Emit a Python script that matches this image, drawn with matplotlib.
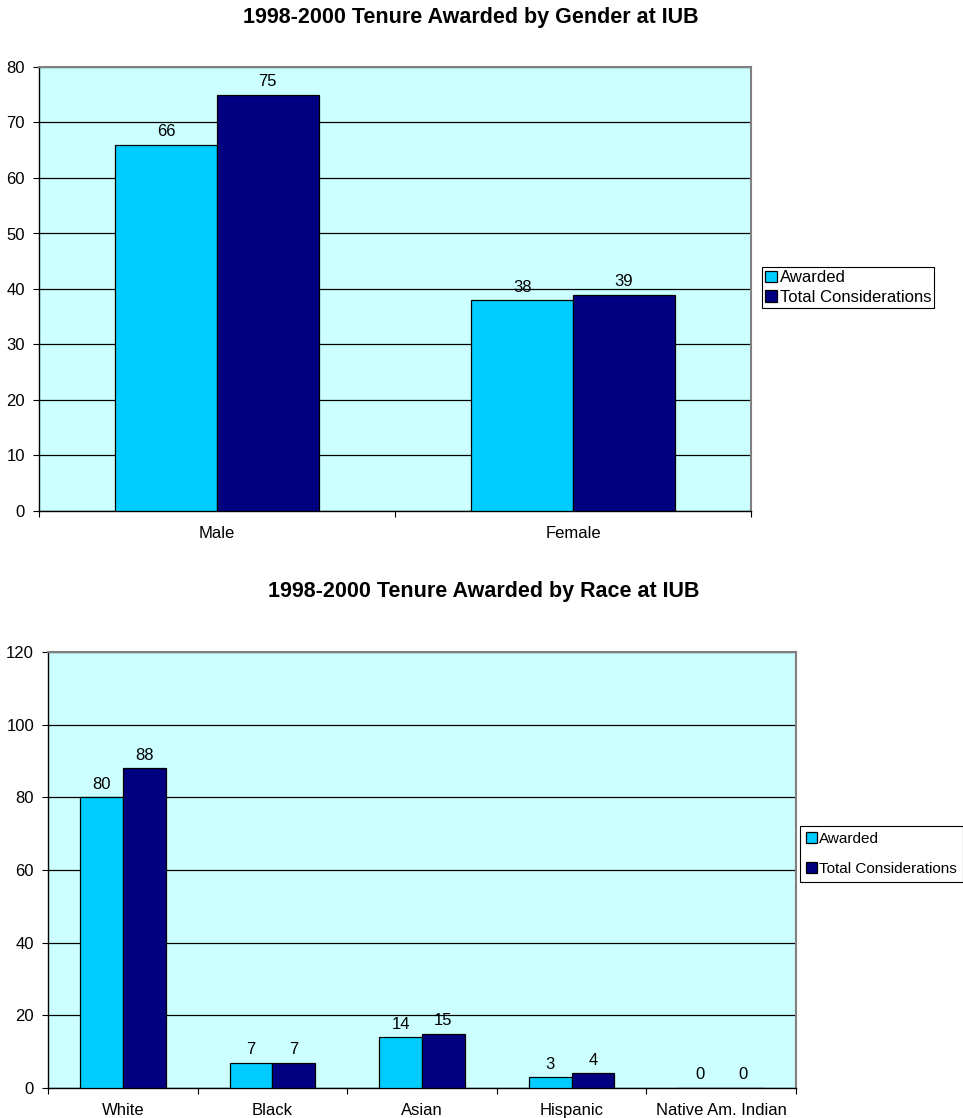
import numpy as np
import matplotlib.pyplot as plt
from matplotlib.ticker import FixedLocator, NullFormatter

plt.rcParams['font.family'] = ['Liberation Sans', 'DejaVu Sans']

# data
gender_cats = ['Male', 'Female']
gender_awarded = [66, 38]
gender_total = [75, 39]

race_cats = ['White', 'Black', 'Asian', 'Hispanic', 'Native Am. Indian']
race_awarded = [80, 7, 14, 3, 0]
race_total = [88, 7, 15, 4, 0]

series_names = ['Awarded', 'Total Considerations']
c_awarded = '#00CCFF'
c_total = '#000080'
c_bg = '#CCFFFF'
W, H = 963, 1118
FS = 12


def draw(ax, cats, awarded, total, ymax, ystep):
    n = len(cats)
    x = np.arange(n)
    bw = 1 / 3.5
    b1 = ax.bar(x - bw / 2, awarded, bw, color=c_awarded, edgecolor='black',
                linewidth=0.9, label=series_names[0], zorder=3)
    b2 = ax.bar(x + bw / 2, total, bw, color=c_total, edgecolor='black',
                linewidth=0.9, label=series_names[1], zorder=3)
    for bars in (b1, b2):
        ax.bar_label(bars, padding=4, fontsize=FS)
    ax.set_facecolor(c_bg)
    ax.set_xlim(-0.5, n - 0.5)
    ax.set_ylim(0, ymax)
    ax.set_yticks(np.arange(0, ymax + 1, ystep))
    ax.yaxis.grid(True, color='black', linewidth=0.9, zorder=1)
    ax.set_axisbelow(True)
    ax.xaxis.set_major_locator(FixedLocator(np.arange(n + 1) - 0.5))
    ax.xaxis.set_major_formatter(NullFormatter())
    ax.set_xticks(x, minor=True)
    ax.set_xticklabels(cats, minor=True, fontsize=FS)
    ax.tick_params(axis='x', which='minor', length=0, pad=11)
    ax.tick_params(axis='x', which='major', length=4, direction='out', color='black')
    ax.tick_params(axis='y', length=4, direction='out', labelsize=FS, pad=6)
    for s in ('top', 'right'):
        ax.spines[s].set_color('#808080')
        ax.spines[s].set_linewidth(1.5)
    for s in ('left', 'bottom'):
        ax.spines[s].set_color('black')
        ax.spines[s].set_linewidth(1)
    return b1, b2


fig = plt.figure(figsize=(W / 100, H / 100), dpi=100)

ax1 = fig.add_axes([39 / W, 1 - 511 / H, (751 - 39) / W, (511 - 67) / H])
h1 = draw(ax1, gender_cats, gender_awarded, gender_total, 80, 10)
fig.text(0.489, 1 - 17 / H, '1998-2000 Tenure Awarded by Gender at IUB',
         ha='center', va='center', fontsize=15.5, fontweight='bold')
leg1 = fig.legend(h1, series_names, loc='upper left',
                  bbox_to_anchor=(762 / W, 1 - 267 / H), fontsize=FS,
                  fancybox=False, edgecolor='black', framealpha=1,
                  handlelength=0.7, handleheight=0.7, handletextpad=0.15,
                  borderpad=0.2, labelspacing=0.25, borderaxespad=0)
leg1.get_frame().set_linewidth(0.8)

ax2 = fig.add_axes([48 / W, 1 - 1088 / H, (796 - 48) / W, (1088 - 652) / H])
h2 = draw(ax2, race_cats, race_awarded, race_total, 120, 20)
fig.text(0.502, 1 - 592 / H, '1998-2000 Tenure Awarded by Race at IUB',
         ha='center', va='center', fontsize=15.5, fontweight='bold')
leg2 = fig.legend(h2, series_names, loc='upper left',
                  bbox_to_anchor=(800 / W, 1 - 826 / H), fontsize=11,
                  fancybox=False, edgecolor='black', framealpha=1,
                  handlelength=0.7, handleheight=0.7, handletextpad=0.15,
                  borderpad=0.4, labelspacing=1.05, borderaxespad=0)
leg2.get_frame().set_linewidth(0.8)

fig.savefig('out.png', dpi=100)
plt.close(fig)
